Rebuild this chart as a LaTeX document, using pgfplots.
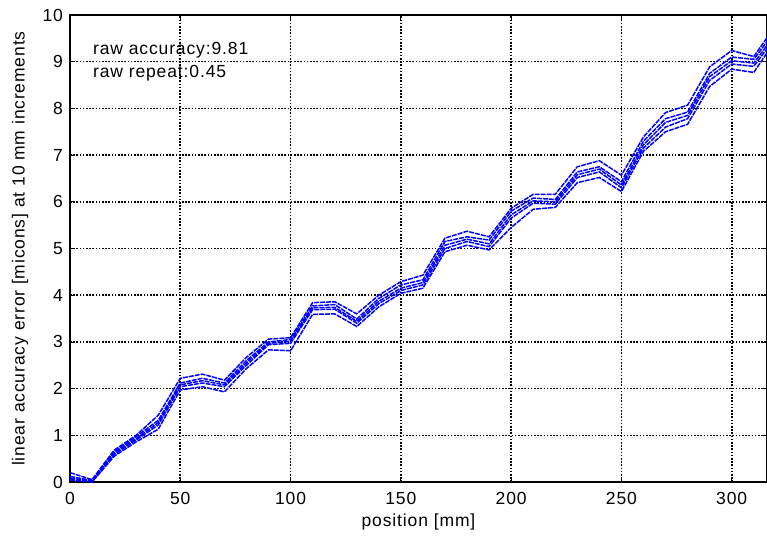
\documentclass[border=0pt]{standalone}
\usepackage{pgfplots}
\pgfplotsset{compat=1.18}
\usepackage{fontspec}
\setmainfont{Liberation Sans}[LetterSpace=5]
\definecolor{mblue}{RGB}{0,0,255}
\begin{document}
\fontsize{17.5}{20}\selectfont
\begin{tikzpicture}
\begin{axis}[
  at={(0pt,0pt)}, anchor=origin,
  scale only axis, width=697pt, height=467pt,
  xmin=0, xmax=316, ymin=0, ymax=10,
  xtick={0,50,...,300}, ytick={0,1,...,10},
  tick align=inside, major tick length=5pt,
  tick style={black, line width=0.8pt},
  axis line style={black, line width=1.5pt},
  grid=major,
  grid style={black, line width=1.6pt, dash pattern=on 1.6pt off 1.6pt},
  /pgf/number format/assume math mode=true,
  every tick label/.append style={font=\fontsize{17.5}{20}\selectfont},
  xticklabel style={yshift=-4pt},
  yticklabel style={xshift=-1pt},
  every axis x label/.style={at={(axis description cs:0.5,-0.0857)}, anchor=center},
  every axis y label/.style={at={(axis description cs:-0.0717,0.5)}, anchor=center, rotate=90},
  xlabel={position [mm]},
  ylabel={linear accuracy error [micons] at 10 mm increments},
  label style={font=\fontsize{17.5}{20}\selectfont},
  clip=true,
  ml/.style={draw=mblue, line width=1.5pt, dash pattern=on 5pt off 1pt, mark=none, forget plot},
]
\addplot[ml] table {
0 0.2
10 0.05
20 0.68
30 1.0
40 1.43
50 2.22
60 2.31
70 2.18
80 2.67
90 3.06
100 3.09
110 3.84
120 3.86
130 3.6
140 4.0
150 4.29
160 4.43
170 5.22
180 5.37
190 5.25
200 5.86
210 6.16
220 6.16
230 6.75
240 6.88
250 6.57
260 7.39
270 7.91
280 8.07
290 8.89
300 9.24
310 9.11
320 9.78
};
\addplot[ml] table {
0 0.12
10 0.03
20 0.65
30 0.97
40 1.32
50 2.12
60 2.22
70 2.12
80 2.6
90 3.0
100 3.05
110 3.77
120 3.8
130 3.49
140 3.93
150 4.22
160 4.33
170 5.15
180 5.25
190 5.18
200 5.8
210 6.08
220 6.05
230 6.64
240 6.75
250 6.43
260 7.3
270 7.78
280 7.92
290 8.75
300 9.1
310 9.05
320 9.68
};
\addplot[ml] table {
0 0.08
10 0.02
20 0.62
30 0.93
40 1.27
50 2.08
60 2.17
70 2.08
80 2.55
90 2.97
100 3.01
110 3.73
120 3.74
130 3.44
140 3.87
150 4.15
160 4.27
170 5.07
180 5.2
190 5.1
200 5.72
210 6.02
220 6.0
230 6.58
240 6.7
250 6.36
260 7.22
270 7.7
280 7.85
290 8.68
300 9.02
310 8.97
320 9.6
};
\addplot[ml] table {
0 0.05
10 0.01
20 0.59
30 0.9
40 1.22
50 2.04
60 2.12
70 2.04
80 2.5
90 2.94
100 2.97
110 3.69
120 3.7
130 3.4
140 3.82
150 4.1
160 4.22
170 5.0
180 5.15
190 5.04
200 5.65
210 5.97
220 5.95
230 6.52
240 6.64
250 6.3
260 7.15
270 7.6
280 7.78
290 8.6
300 8.95
310 8.9
320 9.53
};
\addplot[ml] table {
0 0.04
10 0.0
20 0.55
30 0.86
40 1.13
50 1.97
60 2.04
70 1.93
80 2.43
90 2.83
100 2.81
110 3.59
120 3.6
130 3.33
140 3.75
150 4.04
160 4.15
170 4.93
180 5.07
190 4.97
200 5.45
210 5.84
220 5.88
230 6.41
240 6.52
250 6.22
260 7.08
270 7.5
280 7.66
290 8.47
300 8.84
310 8.77
320 9.47
};
\node[anchor=west, inner sep=0pt, font=\fontsize{17.5}{20}\selectfont] at (axis cs:10.4,9.25) {raw accuracy:9.81};
\node[anchor=west, inner sep=0pt, font=\fontsize{17.5}{20}\selectfont] at (axis cs:10.4,8.76) {raw repeat:0.45};
\end{axis}
\pgfresetboundingbox
\path[use as bounding box] (-70pt,-56pt) rectangle (697pt,482pt);
\end{tikzpicture}
\end{document}
